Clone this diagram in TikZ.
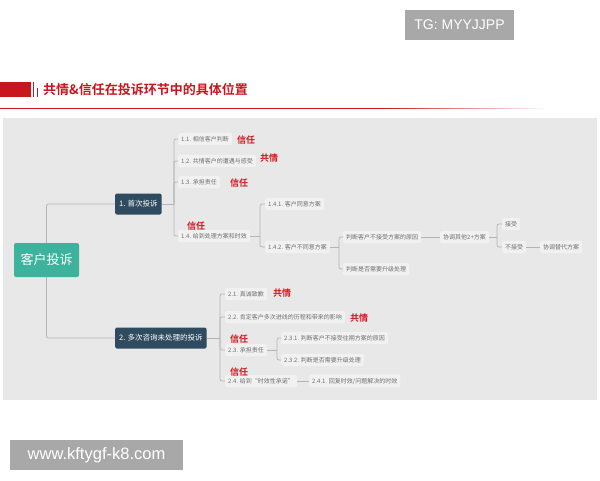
\documentclass[tikz,border=0pt]{standalone}
\usepackage{fontspec}
\setmainfont{Noto Sans CJK SC}[BoldFont={Noto Sans CJK SC Bold}]
\newfontfamily\latinsf{Liberation Sans}
\usetikzlibrary{positioning}
\definecolor{panelgray}{HTML}{E8E8E8}
\definecolor{leafgray}{HTML}{F1F1F1}
\definecolor{leaftext}{HTML}{707070}
\definecolor{linkgray}{HTML}{B4B4B4}
\definecolor{rootteal}{HTML}{3DB39E}
\definecolor{navy}{HTML}{2F4B5F}
\definecolor{tagred}{HTML}{D3161E}
\definecolor{titlered}{HTML}{C8161E}
\definecolor{markgray}{HTML}{A8A8A8}
\tikzset{
  rootbox/.style={fill=rootteal, text=white, rounded corners=2pt, font=\fontsize{13}{13}\selectfont,
    minimum width=65pt, minimum height=34pt, inner sep=2pt},
  mainbox/.style={fill=navy, text=white, rounded corners=1.5pt, font=\fontsize{7.5}{7.5}\selectfont,
    minimum height=21pt, inner xsep=4pt, anchor=west},
  leaf/.style={fill=leafgray, text=leaftext, rounded corners=1.5pt, font=\fontsize{6}{6}\selectfont,
    inner xsep=3pt, minimum height=11pt, anchor=west},
  tag/.style={text=tagred, font=\bfseries\fontsize{9}{9}\selectfont, inner sep=0pt, anchor=west},
  link/.style={draw=linkgray, line width=0.7pt, rounded corners=2pt},
  markbox/.style={fill=markgray, text=white, font=\latinsf, inner sep=0pt}
}
\begin{document}
\begin{tikzpicture}[x=1pt, y=-1pt]
\useasboundingbox (0,0) rectangle (600,480);
% header
\node[markbox, minimum width=109pt, minimum height=30pt, font=\latinsf\fontsize{14}{14}\selectfont] (tgmark) at (459.5,25) {TG: MYYJJPP};
\fill[titlered] (0,82) rectangle (31,97);
\fill[titlered] (32.5,82) rectangle (34,97);
\fill[titlered] (36.5,88) rectangle (38,97);
\node[anchor=west, text=titlered, font=\bfseries\fontsize{13}{13}\selectfont, inner sep=0pt] (title) at (43,89.5) {共情\&信任在投诉环节中的具体位置};
\fill[titlered] (0,107.6) rectangle (380,108.8);
\foreach \i in {0,...,32}
  \fill[titlered!\the\numexpr100-3*\i\relax!white] (380+5*\i,107.6) rectangle (385.2+5*\i,108.8);
% panel
\fill[panelgray] (3,118) rectangle (597,400);
% mind map nodes
\node[rootbox] (root) at (46.5,260) {客户投诉};
\node[mainbox] (first) at (115,204) {1. 首次投诉};
\node[mainbox] (repeat) at (115,338) {2. 多次咨询未处理的投诉};
% branch 1
\node[leaf] (a1) at (178,139) {1.1. 相信客户判断};
\node[leaf] (a2) at (178,161) {1.2. 共情客户的遭遇与感受};
\node[leaf] (a3) at (178,182) {1.3. 承担责任};
\node[leaf] (a4) at (178,236) {1.4. 给到处理方案和时效};
\node[tag] (t1) at (237,140) {信任};
\node[tag] (t2) at (260,158) {共情};
\node[tag] (t3) at (230,183) {信任};
\node[tag] (t4) at (187,226) {信任};
\node[leaf] (a41) at (265,204) {1.4.1. 客户同意方案};
\node[leaf] (a42) at (265,247) {1.4.2. 客户不同意方案};
\node[leaf] (r1) at (343,237) {判断客户不接受方案的原因};
\node[leaf] (r2) at (343,269) {判断是否需要升级处理};
\node[leaf] (alt) at (440,237) {协调其他2+方案};
\node[leaf] (yes) at (502,224) {接受};
\node[leaf] (no) at (502,247) {不接受};
\node[leaf] (sub) at (540,247) {协调替代方案};
% branch 2
\node[leaf] (b1) at (225,294) {2.1. 真诚致歉};
\node[leaf] (b2) at (225,317) {2.2. 肯定客户多次进线的历程和带来的影响};
\node[leaf] (b3) at (225,350) {2.3. 承担责任};
\node[leaf] (b4) at (225,381) {2.4. 给到“时效性承诺”};
\node[tag] (u1) at (273,293) {共情};
\node[tag] (u2) at (350,318) {共情};
\node[tag] (u3) at (230,339) {信任};
\node[tag] (u4) at (230,372) {信任};
\node[leaf] (b31) at (281,338) {2.3.1. 判断客户不接受往期方案的原因};
\node[leaf] (b32) at (281,360) {2.3.2. 判断是否需要升级处理};
\node[leaf] (b41) at (309,381) {2.4.1. 回复时效/问题解决的时效};
% connectors
\draw[link] (root.north) |- (first.west);
\draw[link] (root.south) |- (repeat.west);
\coordinate (fk) at (174,204);
\draw[link] (first.east) -- (fk);
\foreach \c in {a1,a2,a3,a4} \draw[link] (fk) |- (\c.west);
\coordinate (gk) at (260,236);
\draw[link] (a4.east) -- (gk);
\foreach \c in {a41,a42} \draw[link] (gk) |- (\c.west);
\coordinate (hk) at (339,247);
\draw[link] (a42.east) -- (hk);
\foreach \c in {r1,r2} \draw[link] (hk) |- (\c.west);
\draw[link] (r1.east) -- (alt.west);
\coordinate (ik) at (497,237);
\draw[link] (alt.east) -- (ik);
\foreach \c in {yes,no} \draw[link] (ik) |- (\c.west);
\draw[link] (no.east) -- (sub.west);
\coordinate (jk) at (220,338);
\draw[link] (repeat.east) -- (jk);
\foreach \c in {b1,b2,b3,b4} \draw[link] (jk) |- (\c.west);
\coordinate (kk) at (277,350);
\draw[link] (b3.east) -- (kk);
\foreach \c in {b31,b32} \draw[link] (kk) |- (\c.west);
\draw[link] (b4.east) -- (b41.west);
% footer
\node[markbox, minimum width=173pt, minimum height=30pt, font=\latinsf\fontsize{16.5}{16.5}\selectfont] (webmark) at (96.5,455) {www.kftygf-k8.com};
\end{tikzpicture}
\end{document}
